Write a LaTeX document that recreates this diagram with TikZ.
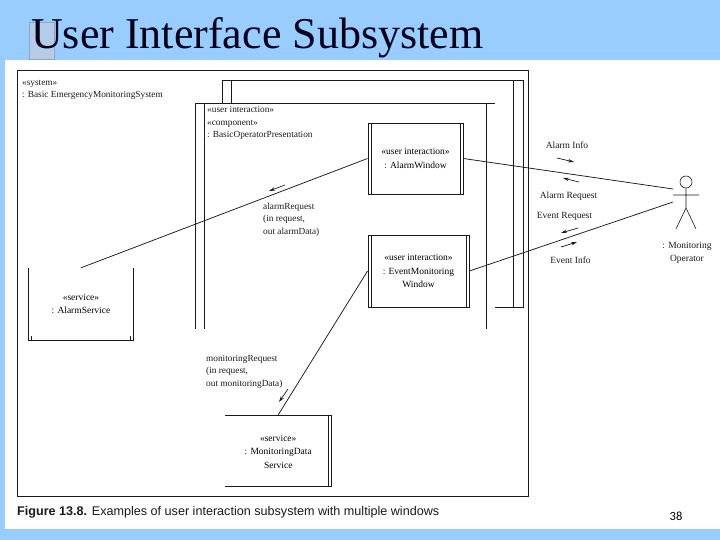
\documentclass[tikz,border=0pt]{standalone}
\usepackage{fontspec}
\setmainfont{Liberation Serif}
\setsansfont{Liberation Sans}
\newfontfamily\numfont{Carlito}
\definecolor{slideblue}{HTML}{99CCFF}
\definecolor{tabfill}{HTML}{B4CCE6}
\definecolor{tabedge}{HTML}{8FA6C0}
\definecolor{ink}{HTML}{1A1A1A}
\usetikzlibrary{arrows.meta}
\tikzset{
  frame/.style={draw=ink,line width=0.9pt},
  wire/.style={draw=ink,line width=0.75pt},
  flow/.style={draw=ink,line width=0.7pt,-{Stealth[length=6pt,width=3.5pt]}},
  boxnode/.style={draw=ink,line width=0.9pt,inner sep=0pt,align=center,font=\fontsize{9.5}{13.5}\selectfont},
  opennode/.style={inner sep=0pt,align=center,font=\fontsize{9.5}{13.5}\selectfont},
  lab/.style={inner sep=0pt,align=left,anchor=north west,font=\fontsize{9.3}{12.5}\selectfont,text=ink},
  clab/.style={inner sep=0pt,align=center,font=\fontsize{9.5}{13}\selectfont,text=ink}
}
\begin{document}
\begin{tikzpicture}[x=1pt,y=-1pt]
\useasboundingbox (0,0) rectangle (720,540);
\fill[slideblue] (0,0) rectangle (720,540);
\fill[white] (5,60) rectangle (720,529);
\fill[tabfill,draw=tabedge,line width=1pt] (29,23) rectangle (54,60);
\node[anchor=base west,inner sep=0pt,text=black!90!blue,font=\fontsize{44}{48}\selectfont] (title) at (31,49) {User Interface Subsystem};
% outer system box
\node[frame,minimum width=511.5pt,minimum height=426.5pt,inner sep=0pt] (sys) at (272.75,283.25) {};
\node[lab] (syslab) at (22,80) {«system»\\: Basic EmergencyMonitoringSystem};
% subsystem frame
\draw[frame] (222,103) -- (222,80) -- (523,80) -- (523,307) -- (495,307);
\draw[frame] (231,103) -- (231,80);
\draw[frame] (513,80) -- (513,307);
% component frame
\draw[frame] (195,329) -- (195,103) -- (495,103);
\draw[frame] (204,329) -- (204,103);
\draw[frame] (486,103) -- (486,329);
\node[lab] (complab) at (207,106.5) {«user interaction»\\«component»\\: BasicOperatorPresentation};
% windows
\node[boxnode,minimum width=95pt,minimum height=71pt] (alarmwin) at (415.5,158.5) {«user interaction»\\: AlarmWindow};
\draw[frame] (371.5,123) -- (371.5,194) (460,123) -- (460,194);
\node[boxnode,minimum width=101pt,minimum height=72pt] (eventwin) at (418.5,271) {«user interaction»\\: EventMonitoring\\Window};
\draw[frame] (371.5,235) -- (371.5,307) (466,235) -- (466,307);
% services
\node[opennode,minimum width=105.5pt,minimum height=72pt] (alarmsvc) at (81,304) {«service»\\: AlarmService};
\draw[frame] (28.25,268) -- (28.25,340) -- (133.75,340) -- (133.75,268);
\draw[frame] (31.5,336) -- (31.5,340) (130.5,336) -- (130.5,340);
\node[opennode,minimum width=106.5pt,minimum height=73pt] (monsvc) at (278.25,451.5) {«service»\\: MonitoringData\\Service};
\draw[frame] (225,415) -- (331.5,415) -- (331.5,486) -- (225,486);
\draw[frame] (328.5,415) -- (328.5,486);
% actor
\coordinate (armL) at (673,195);
\coordinate (armR) at (699,195);
\node[draw=ink,line width=0.6pt,circle,minimum size=12pt,inner sep=0pt] (head) at (686,182) {};
\coordinate (hip) at (686,208);
\coordinate (legL) at (676,229);
\coordinate (legR) at (696,229);
\draw[wire,line width=0.6pt] (head.south) -- (hip) (armL) -- (armR) (legL) -- (hip) -- (legR);
\node[clab] (oplab) at (687,252.5) {: Monitoring\\Operator};
\coordinate (op1) at (673,189);
\coordinate (op2) at (673,202);
% connectors
\draw[wire] (alarmwin.east) -- (op1);
\draw[wire] (eventwin.east) -- (op2);
\draw[wire] (alarmwin.west) -- (alarmsvc.north);
\draw[wire] (eventwin.west) -- (monsvc.north);
% flow arrows
\coordinate (a1s) at (285,185); \coordinate (a1e) at (269,191);
\coordinate (a2s) at (557,158); \coordinate (a2e) at (574,162);
\coordinate (a3s) at (579,182); \coordinate (a3e) at (563,178);
\coordinate (a4s) at (578,228); \coordinate (a4e) at (561,233);
\coordinate (a5s) at (561,247); \coordinate (a5e) at (577,242);
\coordinate (a6s) at (288,389); \coordinate (a6e) at (279,402);
\draw[flow] (a1s) -- (a1e);
\draw[flow] (a2s) -- (a2e);
\draw[flow] (a3s) -- (a3e);
\draw[flow] (a4s) -- (a4e);
\draw[flow] (a5s) -- (a5e);
\draw[flow] (a6s) -- (a6e);
% labels
\node[lab] (l1) at (263,202.5) {alarmRequest\\(in request,\\out alarmData)};
\node[clab] (l2) at (567,145.5) {Alarm Info};
\node[clab] (l3) at (568.5,196) {Alarm Request};
\node[clab] (l4) at (564.5,216) {Event Request};
\node[clab] (l5) at (570.5,260) {Event Info};
\node[lab] (l6) at (206,355) {monitoringRequest\\(in request,\\out monitoringData)};
% caption
\node[anchor=base west,inner sep=0pt,text=ink,font=\sffamily\fontsize{12.6}{15}\selectfont] (cap) at (17,515) {\textbf{Figure 13.8.} Examples of user interaction subsystem with multiple windows};
\node[anchor=base,inner sep=0pt,text=black,font=\numfont\fontsize{12.5}{14}\selectfont] (num) at (676,520) {38};
\end{tikzpicture}
\end{document}
